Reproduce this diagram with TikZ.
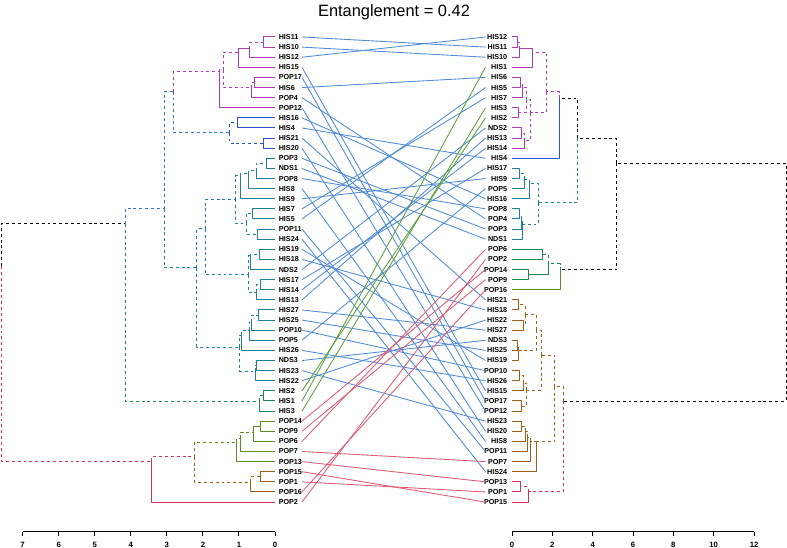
\documentclass[tikz,border=0pt]{standalone}
\usepackage{fontspec}
\setmainfont{Liberation Sans}

\definecolor{hpurple}{RGB}{176,58,181}
\definecolor{hblue}{RGB}{45,85,200}
\definecolor{hbluemid}{RGB}{50,120,210}
\definecolor{hteal}{RGB}{30,130,155}
\definecolor{hgreen}{RGB}{30,135,80}
\definecolor{holive}{RGB}{95,140,40}
\definecolor{hbrown}{RGB}{160,95,25}
\definecolor{hred}{RGB}{210,50,90}
\definecolor{lkblue}{RGB}{80,140,215}
\definecolor{lkgreen}{RGB}{95,160,60}
\definecolor{lkred}{RGB}{225,90,115}

\begin{document}
\begin{tikzpicture}[
	x=0.75pt, y=-0.75pt,
	line join=round,
	leaflab/.style={font=\bfseries\fontsize{5.4}{6}\selectfont, inner sep=0pt},
	ticklab/.style={font=\bfseries\fontsize{5.8}{6}\selectfont, inner sep=0pt},
	axis/.style={line width=0.7pt},
	br/.style={line width=0.75pt},
	dsh/.style={dash pattern=on 2.2pt off 2.2pt},
	pu/.style={br, draw=hpurple}, pud/.style={pu, dsh},
	bl/.style={br, draw=hblue}, bld/.style={bl, dsh},
	bmd/.style={br, draw=hbluemid, dsh},
	te/.style={br, draw=hteal}, ted/.style={te, dsh},
	gr/.style={br, draw=hgreen}, grd/.style={gr, dsh},
	ol/.style={br, draw=holive}, old/.style={ol, dsh},
	bn/.style={br, draw=hbrown}, bnd/.style={bn, dsh},
	rd/.style={br, draw=hred}, rdd/.style={rd, dsh},
	kd/.style={br, draw=black, dsh},
	lkb/.style={line width=0.65pt, draw=lkblue},
	lkg/.style={line width=0.65pt, draw=lkgreen},
	lkr/.style={line width=0.65pt, draw=lkred}
	]
	
	\useasboundingbox (0,0) rectangle (787,548);
	
	\node[font=\fontsize{12.3}{14}\selectfont, inner sep=0pt] (title) at (394,12.5) {Entanglement = 0.42};
	
	\def\leftleaves{HIS11,HIS10,HIS12,HIS15,POP17,HIS6,POP4,POP12,HIS16,HIS4,HIS21,HIS20,POP3,NDS1,POP8,HIS8,HIS9,HIS7,HIS5,POP11,HIS24,HIS19,HIS18,NDS2,HIS17,HIS14,HIS13,HIS27,HIS25,POP10,POP5,HIS26,NDS3,HIS23,HIS22,HIS2,HIS1,HIS3,POP14,POP9,POP6,POP7,POP13,POP15,POP1,POP16,POP2}
	\def\rightleaves{HIS12,HIS11,HIS10,HIS1,HIS6,HIS5,HIS7,HIS3,HIS2,NDS2,HIS13,HIS14,HIS4,HIS17,HIS9,POP5,HIS16,POP8,POP4,POP3,NDS1,POP6,POP2,POP14,POP9,POP16,HIS21,HIS18,HIS22,HIS27,NDS3,HIS25,HIS19,POP10,HIS26,HIS15,POP17,POP12,HIS23,HIS20,HIS8,POP11,POP7,HIS24,POP13,POP1,POP15}
	
	% leaves
	\foreach \lab [count=\i] in \leftleaves {
		\pgfmathsetmacro\yy{37+(\i-1)*10.11}
		\node[leaflab, anchor=west] (L\lab) at (278.5,\yy) {\lab};
		\coordinate (tL\lab) at (275,\yy);
		\coordinate (pL\lab) at (302,\yy);
	}
	\foreach \lab [count=\i] in \rightleaves {
		\pgfmathsetmacro\yy{37+(\i-1)*10.11}
		\node[leaflab, anchor=east] (R\lab) at (507.5,\yy) {\lab};
		\coordinate (tR\lab) at (512,\yy);
		\coordinate (pR\lab) at (485.5,\yy);
	}
	
	% connecting lines
	\foreach \lab in {HIS11,HIS10,HIS12,HIS15,POP17,HIS6,POP4,POP12,HIS16,HIS4,HIS21,HIS20,POP3,NDS1,POP8,HIS8,HIS9,HIS7,HIS5,POP11,HIS24,HIS19,HIS18,NDS2,HIS17,HIS14,HIS13,HIS27,HIS25,POP10,POP5,HIS26,NDS3,HIS23,HIS22}
	\draw[lkb] (pL\lab) -- (pR\lab);
	\foreach \lab in {HIS2,HIS1,HIS3}
	\draw[lkg] (pL\lab) -- (pR\lab);
	\foreach \lab in {POP14,POP9,POP6,POP7,POP13,POP15,POP1,POP16,POP2}
	\draw[lkr] (pL\lab) -- (pR\lab);
	
	% Left dendrogram
	\foreach \n/\x/\y in {a1/263.3/42.05, a2/249.5/48.5, a3/238/52.3, d1/254/82.5, d2/251.7/88,
		a4/223.3/70, a5/219.3/72, h1/237.7/123, i1/263.3/143.15, J/229.3/132.7, a6/173.3/91.7,
		N1/266/163.35, N2/256/171, N3/248.3/174, N4/240/176, P1/252.3/213.95, P2/257.7/234.15,
		P/246/223.3, N5/235/199.5, Q1a/259.3/254.35, Q1/250/256, Q2a/260/284.7, Q2/256.7/292.3,
		Q/248.3/275, N6/205/229, R1/258.3/315.05, R2/251.7/322, R3/249.3/330, R4/241.7/335,
		S1/256.7/365.55, S2/255/371, N7/239.3/347, M/196.7/268, L/164.3/209,
		g1/263.3/395.9, g2/259.3/401, T/125/224, o1/260/426.25, o2/253.3/432, o3/240.7/438,
		o4/236.7/442, b1/260/476.75, b2/250.7/482.3, W/194.3/456.7, U/151.7/461, rootL/1.5/266}
	\coordinate (\n) at (\x,\y);
	
	\foreach \pa/\ch/\st in {a1/tLHIS11/pu, a1/tLHIS10/pu, a2/a1/pud, a2/tLHIS12/pu,
		a3/a2/pu, a3/tLHIS15/pu, d1/tLPOP17/pu, d1/tLHIS6/pu, d2/d1/pud, d2/tLPOP4/pu,
		a4/a3/pud, a4/d2/pud, a5/a4/pud, a5/tLPOP12/pu,
		h1/tLHIS16/bl, h1/tLHIS4/bl, i1/tLHIS21/bl, i1/tLHIS20/bl, J/h1/bld, J/i1/bld,
		a6/a5/pud, a6/J/bmd,
		N1/tLPOP3/te, N1/tLNDS1/te, N2/N1/ted, N2/tLPOP8/te, N3/N2/ted, N3/tLHIS8/te,
		N4/N3/ted, N4/tLHIS9/te, P1/tLHIS7/te, P1/tLHIS5/te, P2/tLPOP11/te, P2/tLHIS24/te,
		P/P1/ted, P/P2/ted, N5/N4/ted, N5/P/ted,
		Q1a/tLHIS19/te, Q1a/tLHIS18/te, Q1/Q1a/ted, Q1/tLNDS2/te,
		Q2a/tLHIS17/te, Q2a/tLHIS14/te, Q2/Q2a/ted, Q2/tLHIS13/te, Q/Q1/ted, Q/Q2/ted,
		N6/N5/ted, N6/Q/ted,
		R1/tLHIS27/te, R1/tLHIS25/te, R2/R1/ted, R2/tLPOP10/te, R3/R2/ted, R3/tLPOP5/te,
		R4/R3/ted, R4/tLHIS26/te, S1/tLNDS3/te, S1/tLHIS23/te, S2/S1/ted, S2/tLHIS22/te,
		N7/R4/ted, N7/S2/ted, M/N6/ted, M/N7/ted, L/a6/bmd, L/M/ted,
		g1/tLHIS2/gr, g1/tLHIS1/gr, g2/g1/grd, g2/tLHIS3/gr, T/L/bmd, T/g2/grd,
		o1/tLPOP14/ol, o1/tLPOP9/ol, o2/o1/ol, o2/tLPOP6/ol, o3/o2/old, o3/tLPOP7/ol,
		o4/o3/old, o4/tLPOP13/ol, b1/tLPOP15/bn, b1/tLPOP1/bn, b2/b1/bnd, b2/tLPOP16/bn,
		W/o4/old, W/b2/bnd, U/W/rdd, U/tLPOP2/rd, rootL/T/kd, rootL/U/rdd}
	\draw[\st] (\pa) |- (\ch);
	
	% Right dendrogram
	\foreach \n/\x/\y in {r1/517.7/42.05, r2/519/48.5, r3/532.3/52.7, s1/520/82.5, s2/522.5/87.3,
		s3/518.5/112.85, s4/526/100, t1/521/133.05, t2/524.5/140.6, s5/530.5/112.7,
		r4/546.7/91.7, r5/559.3/98.3, u1/519.3/173.45, u2/524/179.3, u3/529.3/183.3,
		v1/519.3/213.95, v2/521/219, v3/522.7/224.3, u4/538.3/202.7, r6/577.5/138.3,
		w1/542.3/254.35, w2/528.3/274.55, w3/548.3/264, w4/560/270, V/616.7/163.3,
		c1/518.3/304.95, c2/523.3/325.15, c3/525/315, c4a/517.5/345.35, c4/518/350,
		c5/536.7/330, c7/519/375.65, c8/523.3/383, c9/521.7/406.05, c10/526.7/390, c6/541/355,
		f1/521/426.25, f2/525.7/431, f3/527.7/437, f4/530/441, f5/536.7/441.7,
		c11/554.3/386.7, e1/520/486.85, e2/528.3/491.7, c12/563/401, rootR/786.2/280}
	\coordinate (\n) at (\x,\y);
	
	\foreach \pa/\ch/\st in {r1/tRHIS12/pu, r1/tRHIS11/pu, r2/r1/pud, r2/tRHIS10/pu,
		r3/r2/pu, r3/tRHIS1/pu, s1/tRHIS6/pu, s1/tRHIS5/pu, s2/s1/pud, s2/tRHIS7/pu,
		s3/tRHIS3/pu, s3/tRHIS2/pu, s4/s2/pud, s4/s3/pud, t1/tRNDS2/pu, t1/tRHIS13/pu,
		t2/t1/pud, t2/tRHIS14/pu, s5/s4/pud, s5/t2/pud, r4/r3/pud, r4/s5/pud,
		r5/r4/pud, r5/tRHIS4/bl,
		u1/tRHIS17/te, u1/tRHIS9/te, u2/u1/ted, u2/tRPOP5/te, u3/u2/ted, u3/tRHIS16/te,
		v1/tRPOP8/te, v1/tRPOP4/te, v2/v1/ted, v2/tRPOP3/te, v3/v2/ted, v3/tRNDS1/te,
		u4/u3/ted, u4/v3/ted, r6/r5/kd, r6/u4/ted,
		w1/tRPOP6/gr, w1/tRPOP2/gr, w2/tRPOP14/gr, w2/tRPOP9/gr, w3/w1/grd, w3/w2/gr,
		w4/w3/grd, w4/tRPOP16/ol, V/r6/kd, V/w4/kd,
		c1/tRHIS21/bn, c1/tRHIS18/bn, c2/tRHIS22/bn, c2/tRHIS27/bn, c3/c1/bnd, c3/c2/bnd,
		c4a/tRNDS3/bn, c4a/tRHIS25/bn, c4/c4a/bnd, c4/tRHIS19/bn, c5/c3/bnd, c5/c4/bnd,
		c7/tRPOP10/bn, c7/tRHIS26/bn, c8/c7/bnd, c8/tRHIS15/bn, c9/tRPOP17/bn, c9/tRPOP12/bn,
		c10/c8/bnd, c10/c9/bnd, c6/c5/bnd, c6/c10/bnd,
		f1/tRHIS23/bn, f1/tRHIS20/bn, f2/f1/bnd, f2/tRHIS8/bn, f3/f2/bnd, f3/tRPOP11/bn,
		f4/f3/bnd, f4/tRPOP7/bn, f5/f4/bnd, f5/tRHIS24/bn, c11/c6/bnd, c11/f5/bnd,
		e1/tRPOP13/rd, e1/tRPOP1/rd, e2/e1/rdd, e2/tRPOP15/rd,
		c12/c11/bnd, c12/e2/rdd, rootR/V/kd, rootR/c12/kd}
	\draw[\st] (\pa) |- (\ch);
	
	% axes
	\draw[axis] (22.7,531.5) -- (275,531.5);
	\foreach \t in {0,...,7} {
		\draw[axis] ({275-36.05*\t},531.5) -- ++(0,4.5);
		\node[ticklab] (lt\t) at ({275-36.05*\t},545) {\t};
	}
	\draw[axis] (512,531.5) -- (754,531.5);
	\foreach \t in {0,2,...,12} {
		\draw[axis] ({512+20.17*\t},531.5) -- ++(0,4.5);
		\node[ticklab] (rt\t) at ({512+20.17*\t},545) {\t};
	}
	
\end{tikzpicture}
\end{document}
